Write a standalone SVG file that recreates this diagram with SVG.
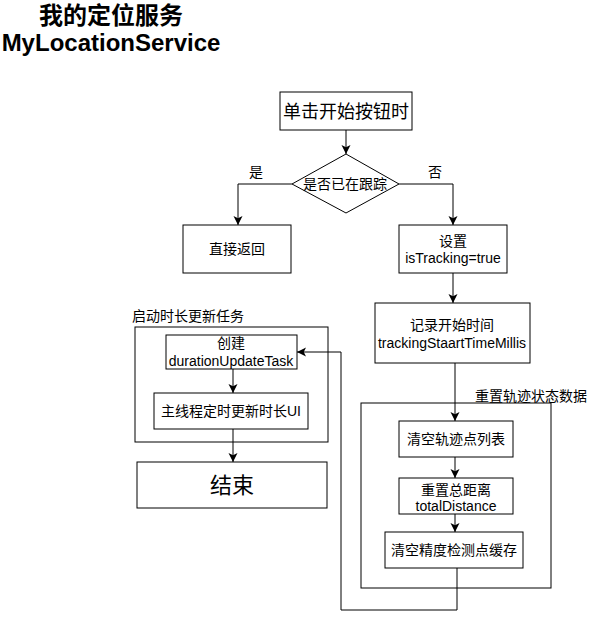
<svg xmlns="http://www.w3.org/2000/svg" width="611" height="620" viewBox="0 0 611 620">
<style>
text{font-family:"Liberation Sans","Noto Sans CJK SC",sans-serif;fill:#000}
.box{fill:#fff;stroke:#000;stroke-width:1}
.grp{fill:none;stroke:#000;stroke-width:1}
.c{font-size:14px;text-anchor:middle}
.e{fill:none;stroke:#000;stroke-width:1}
.t{font-size:24px;font-weight:bold;text-anchor:middle}
</style>
<defs>
<marker id="arr" viewBox="0 0 10 10" refX="10" refY="5" markerWidth="9" markerHeight="10" markerUnits="userSpaceOnUse" orient="auto">
<path d="M0,0 L10,5 L0,10 L2.5,5 z" fill="#000"/>
</marker>
</defs>
<g id="title">
<text class="t" x="111" y="24">我的定位服务</text>
<text class="t" x="111" y="51">MyLocationService</text>
</g>
<g id="group-reset">
<rect class="grp" x="361" y="403" width="190" height="185"/>
<text x="475" y="401" font-size="14">重置轨迹状态数据</text>
</g>
<g id="group-duration">
<rect class="grp" x="135" y="327" width="193" height="115"/>
<text x="132" y="321" font-size="14">启动时长更新任务</text>
</g>
<g id="connectors">
<path class="e" d="M346,130 L346,154" marker-end="url(#arr)"/>
<path class="e" d="M292,184 L238,184 L238,225" marker-end="url(#arr)"/>
<path class="e" d="M399,184 L453,184 L453,225" marker-end="url(#arr)"/>
<path class="e" d="M453,273 L453,303" marker-end="url(#arr)"/>
<path class="e" d="M455,363 L455,421" marker-end="url(#arr)"/>
<path class="e" d="M455,457 L455,478" marker-end="url(#arr)"/>
<path class="e" d="M455,514 L455,532" marker-end="url(#arr)"/>
<path class="e" d="M457,568 L457,610 L341,610 L341,352 L297,352" marker-end="url(#arr)"/>
<path class="e" d="M233,369 L233,393" marker-end="url(#arr)"/>
<path class="e" d="M233,429 L233,462" marker-end="url(#arr)"/>
<text class="c" x="256" y="177">是</text>
<text class="c" x="435" y="177">否</text>
</g>
<g id="start">
<rect class="box" x="280" y="92" width="132" height="38"/>
<text x="346" y="118" font-size="18" text-anchor="middle">单击开始按钮时</text>
</g>
<g id="decision">
<polygon class="box" points="346,154 399,184 346,213 292,184"/>
<text class="c" x="345" y="189">是否已在跟踪</text>
</g>
<g id="return">
<rect class="box" x="183" y="225" width="108" height="48"/>
<text class="c" x="237" y="254">直接返回</text>
</g>
<g id="set-tracking">
<rect class="box" x="399" y="225" width="108" height="48"/>
<text class="c" x="453" y="246">设置</text>
<text class="c" x="453" y="263">isTracking=true</text>
</g>
<g id="record-time">
<rect class="box" x="375" y="303" width="155" height="60"/>
<text class="c" x="452" y="330">记录开始时间</text>
<text class="c" x="452" y="348">trackingStaartTimeMillis</text>
</g>
<g id="clear-points">
<rect class="box" x="399" y="421" width="114" height="36"/>
<text class="c" x="456" y="444">清空轨迹点列表</text>
</g>
<g id="reset-distance">
<rect class="box" x="399" y="478" width="114" height="36"/>
<text class="c" x="456" y="495">重置总距离</text>
<text class="c" x="456" y="511">totalDistance</text>
</g>
<g id="clear-cache">
<rect class="box" x="385" y="532" width="138" height="36"/>
<text class="c" x="454" y="555">清空精度检测点缓存</text>
</g>
<g id="create-task">
<rect class="box" x="166" y="335" width="131" height="34"/>
<text class="c" x="231" y="348">创建</text>
<text class="c" x="231" y="366">durationUpdateTask</text>
</g>
<g id="update-ui">
<rect class="box" x="154" y="393" width="154" height="36"/>
<text class="c" x="231" y="416">主线程定时更新时长UI</text>
</g>
<g id="end">
<rect class="box" x="137" y="462" width="190" height="46"/>
<text x="232" y="493" font-size="22" text-anchor="middle">结束</text>
</g>
</svg>
